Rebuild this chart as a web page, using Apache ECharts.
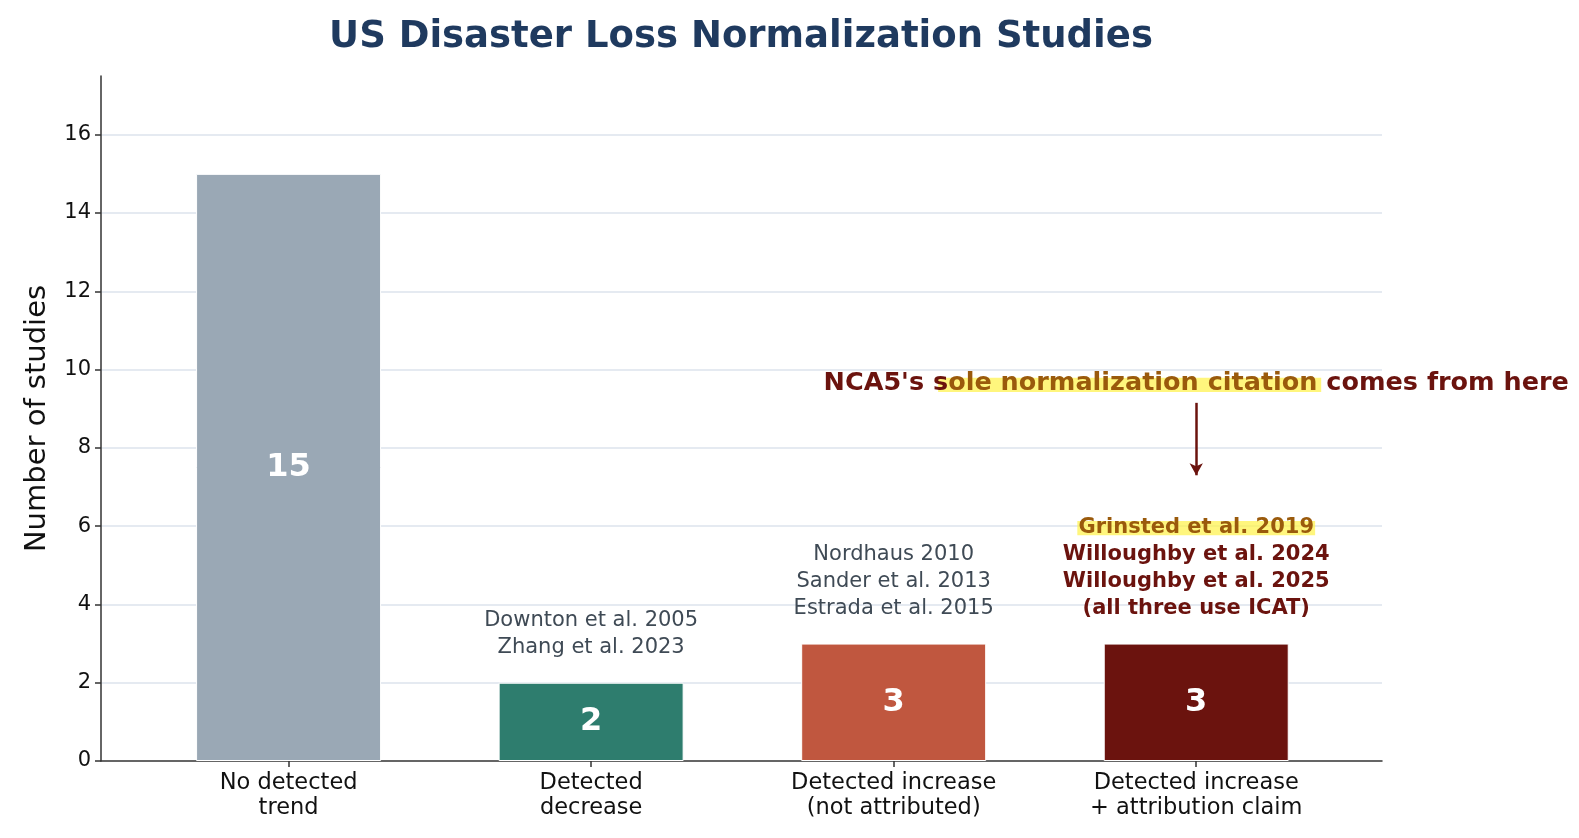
<!DOCTYPE html>
<html><head><meta charset="utf-8">
<script src="https://cdn.jsdelivr.net/npm/echarts@6/dist/echarts.min.js"></script>
<style>html,body{margin:0;padding:0;background:#fff}#c{width:1579px;height:838px}</style>
</head><body><div id="c"></div>
<script>
const categories = ['No detected\ntrend', 'Detected\ndecrease', 'Detected increase\n(not attributed)', 'Detected increase\n+ attribution claim'];
const studyCounts = [15, 2, 3, 3];
const barColors = ['#9aa8b5', '#2e7d6e', '#c0573f', '#6b130e'];
const citations = [
  [],
  ['Downton et al. 2005', 'Zhang et al. 2023'],
  ['Nordhaus 2010', 'Sander et al. 2013', 'Estrada et al. 2015'],
  ['Grinsted et al. 2019', 'Willoughby et al. 2024', 'Willoughby et al. 2025', '(all three use ICAT)']
];
const yTicks = [0, 2, 4, 6, 8, 10, 12, 14, 16];
const calloutText = ["NCA5's s", 'ole normalization citation ', 'comes from here'];
const calloutValue = 9.64;
const arrowFrom = 9.15, arrowTo = 7.3;

const FONT = 'DejaVu Sans';
const DARK = '#6b130e';
const HL = '#9a5a0c';

const barData = studyCounts.map((v, i) => ({ value: [i, v], itemStyle: { color: barColors[i] } }));
const citeData = [];
citations.forEach((lines, i) => {
  if (!lines.length) return;
  let fmt;
  if (i === 3) fmt = lines.map((l, k) => (k === 0 ? '{h|' + l + '}' : '{b|' + l + '}')).join('\n');
  else fmt = lines.map(l => '{g|' + l + '}').join('\n');
  citeData.push({ value: [i, studyCounts[i]], label: { formatter: fmt } });
});

const chart = echarts.init(document.getElementById('c'), null, { renderer: 'canvas' });
chart.setOption({
  animation: false,
  backgroundColor: '#fff',
  title: {
    text: 'US Disaster Loss Normalization Studies',
    left: 736, top: 14, textAlign: 'center',
    textStyle: { fontFamily: FONT, fontSize: 37, fontWeight: 'bold', color: '#1f3a5f' }
  },
  grid: { left: 101, right: 197, top: 76, bottom: 77, containLabel: false },
  xAxis: {
    type: 'value', min: -0.62, max: 3.614,
    axisLine: { show: true, onZero: false, lineStyle: { color: '#333', width: 1.5 } },
    axisTick: { show: true, length: 6, lineStyle: { color: '#333', width: 1.5 }, customValues: [0, 1, 2, 3] },
    axisLabel: {
      customValues: [0, 1, 2, 3],
      formatter: v => categories[Math.round(v)],
      fontFamily: FONT, fontSize: 22.5, color: '#111', lineHeight: 25, margin: 10
    },
    splitLine: { show: false }
  },
  yAxis: {
    type: 'value', min: 0, max: 17.5, interval: 2,
    name: 'Number of studies', nameLocation: 'middle', nameGap: 49,
    nameTextStyle: { fontFamily: FONT, fontSize: 29, color: '#111' },
    axisLine: { show: true, onZero: false, lineStyle: { color: '#333', width: 1.5 } },
    axisTick: { show: true, length: 6, lineStyle: { color: '#333', width: 1.5 }, customValues: yTicks },
    axisLabel: { customValues: yTicks, fontFamily: FONT, fontSize: 21, color: '#111', margin: 10 },
    splitLine: { show: true, showMinLine: false, lineStyle: { color: '#dde3ec', width: 1.5 } }
  },
  series: [
    {
      type: 'bar', data: barData, barWidth: 185, z: 3,
      itemStyle: { borderColor: '#fff', borderWidth: 1 },
      label: {
        show: true, position: 'inside', formatter: p => String(p.value[1]),
        fontFamily: FONT, fontSize: 32, fontWeight: 'bold', color: '#fff'
      }
    },
    {
      type: 'scatter', data: citeData, symbolSize: 0, z: 5, silent: true,
      itemStyle: { opacity: 1 },
      label: {
        show: true, position: 'top', distance: 22, align: 'center',
        lineHeight: 27,
        rich: {
          g: { fontFamily: FONT, fontSize: 21, color: '#3f4a55', lineHeight: 27 },
          b: { fontFamily: FONT, fontSize: 21, fontWeight: 'bold', color: DARK, lineHeight: 27 },
          h: { fontFamily: FONT, fontSize: 21, fontWeight: 'bold', color: HL, lineHeight: 27 }
        }
      },
      markArea: {
        silent: true,
        itemStyle: { color: 'rgba(255,242,70,0.7)' },
        data: [
          [{ coord: [2.607, 6.13] }, { coord: [3.393, 5.77] }],
          [{ coord: [2.147, 9.79] }, { coord: [3.413, 9.43] }]
        ]
      }
    },
    {
      type: 'scatter', data: [[3, calloutValue]], symbolSize: 0, z: 6, silent: true,
      itemStyle: { opacity: 1 },
      label: {
        show: true, position: 'inside',
        formatter: '{a|' + calloutText[0] + '}{h|' + calloutText[1] + '}{a|' + calloutText[2] + '}',
        rich: {
          a: { fontFamily: FONT, fontSize: 25.5, fontWeight: 'bold', color: DARK },
          h: { fontFamily: FONT, fontSize: 25.5, fontWeight: 'bold', color: HL }
        }
      },
      markLine: {
        silent: true, symbol: ['none', 'arrow'], symbolSize: [10, 12],
        lineStyle: { color: DARK, width: 2.5, type: 'solid', opacity: 1 },
        label: { show: false },
        data: [[{ coord: [3, arrowFrom] }, { coord: [3, arrowTo] }]]
      }
    }
  ]
});
</script></body></html>
